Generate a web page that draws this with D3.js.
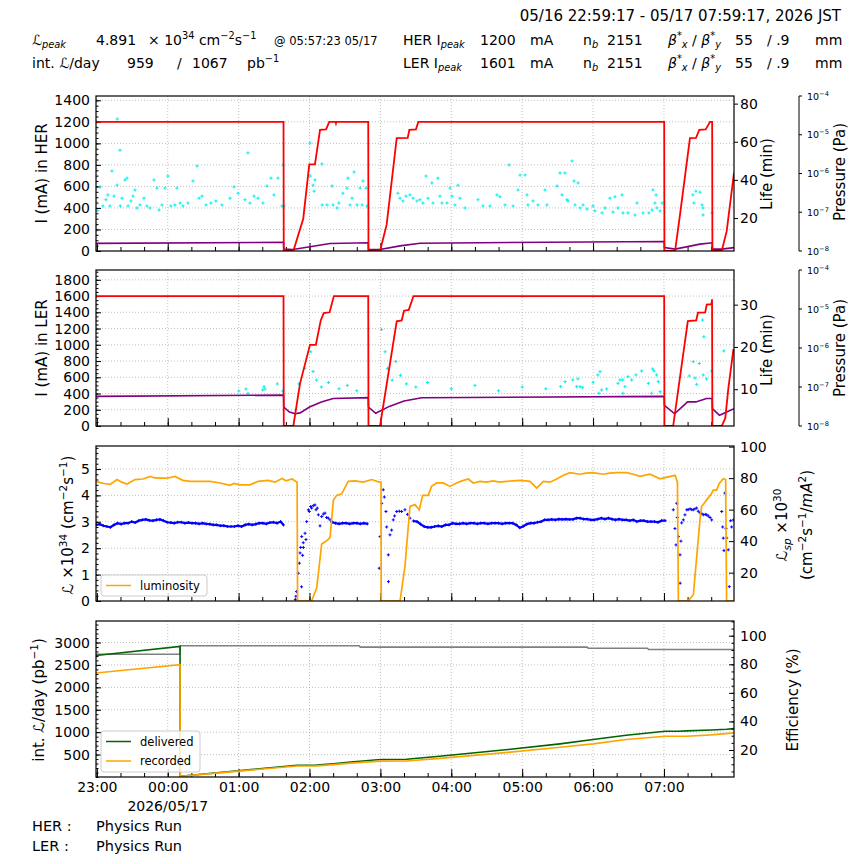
<!DOCTYPE html>
<html>
<head>
<meta charset="utf-8">
<script src="https://cdn.jsdelivr.net/npm/d3@7"></script>
<style>
  body { margin: 0; background: #fff; }
  svg { font-family: "DejaVu Sans", sans-serif; }
  text { white-space: pre; }
</style>
</head>
<body>
<script>
// ---- data (time = minutes after 23:00 on 05/16) ----
const herCurrent = [[-1,1200],[158,1200],[158.2,0],[166.3,0],[174.7,300],[179.8,805],[184.6,805],[188.9,1125],[194,1130],[196.7,1200],[202,1200],[202.4,1185],[202.8,1200],[229.7,1200],[229.9,0],[239.7,0],[245.3,245],[253.8,1048],[263.1,1050],[264.5,1125],[270.1,1130],[272.1,1200],[480.2,1200],[480.4,0],[489.4,0],[493.6,339],[502,1048],[507.1,1050],[509.9,1125],[515.3,1130],[519,1200],[520.8,1200],[521,0],[528.9,0],[533.1,184],[539.3,728]];
const herLife = [[-1,6.7],[158,7.2],[158.2,3.7],[166,3.5],[180.4,4.9],[197.4,6.6],[229.7,7.0],[229.9,3.5],[239.7,3.5],[256.6,5.4],[273.5,6.8],[480.2,7.7],[480.4,4.5],[489.4,3.7],[510.5,6.3],[520.8,7.0],[521,3.7],[528.9,3.7],[539.3,4.5]];
const herPressure = [[0.7,1.1e-7],[2.7,4.5e-7],[5.2,1.45e-7],[7.7,2.1e-7],[9.4,2.8e-7],[11.1,1.45e-7],[12.8,1.16e-6],[14.5,2.6e-7],[17.1,5.0e-7],[17.3,2.55e-5],[19.6,4.0e-6],[19.8,1.45e-7],[21.3,2.3e-7],[23.8,6.8e-7],[25.5,7.6e-7],[26.4,1.45e-7],[28.9,1.95e-7],[30.6,2.6e-7],[32.3,3.75e-7],[34,1.29e-7],[36.5,1.54e-7],[39.9,2.3e-7],[42.4,1.45e-7],[45,1.29e-7],[48.4,6.8e-7],[50.9,4.2e-7],[52.6,1.14e-7],[55.1,1.54e-7],[57.7,4.2e-7],[60.2,8.6e-7],[62.7,1.45e-7],[66.1,1.54e-7],[67.8,4.2e-7],[70.4,1.73e-7],[72.9,1.45e-7],[77.1,1.73e-7],[81.4,6.4e-7],[84.8,1.56e-6],[86.5,2.3e-7],[89,2.6e-7],[92.4,1.54e-7],[96.6,1.73e-7],[100.8,1.95e-7],[105.9,1.54e-7],[112.7,2.3e-7],[116.1,4.5e-7],[119.5,3.1e-7],[125.4,2.1e-7],[127.9,3.4e-6],[129.6,1.73e-7],[133,2.6e-7],[136.4,2.3e-7],[140.6,1.73e-7],[144,4.75e-7],[147.4,7.6e-7],[149.9,2.8e-7],[153.3,7.6e-7],[156.7,1.45e-7],[157.6,1.66e-6],[158.4,1.45e-7],
  [180.4,6.1e-6],[180.6,8.6e-7],[183,5.0e-7],[183.9,3.5e-7],[184.6,6.8e-7],[190.5,1.76e-6],[190.7,1.54e-7],[194.8,1.54e-7],[199.1,4.75e-7],[199.9,1.54e-7],[203.3,1.29e-7],[204.9,1.73e-7],[208.3,3.1e-7],[211.7,4.2e-7],[212.6,7.6e-7],[214.3,1.54e-7],[216,2.3e-7],[217.7,1.09e-6],[220.2,1.54e-7],[222.8,4.2e-7],[224.5,1.54e-7],[225.3,6.4e-7],[227.8,4.2e-7],[228.6,1.45e-7],
  [254.8,3.1e-7],[256.6,2.3e-7],[259.1,1.95e-7],[261.7,2.6e-7],[265,2.8e-7],[267.6,2.3e-7],[271,1.95e-7],[273.5,2.1e-7],[276,1.73e-7],[278.6,8.6e-7],[280.3,2.3e-7],[283.6,5.7e-7],[284.5,1.73e-7],[288.7,7.6e-7],[290.4,2.6e-7],[292.1,1.73e-7],[296.4,1.73e-7],[298.9,4.2e-7],[300.6,2.6e-7],[303.1,1.54e-7],[305.7,5.0e-7],[307.4,2.3e-7],[311.6,1.29e-7],[322.6,2.1e-7],[326.8,1.45e-7],[332.8,1.45e-7],[338.7,2.8e-7],[341.2,2.5e-7],[345.5,1.54e-7],[348.9,1.66e-6],[352.3,1.45e-7],[356.5,3.75e-7],[358.2,9.1e-7],[362.4,9.1e-7],[364.1,2.8e-7],[364.9,1.54e-7],[369.2,1.95e-7],[373.4,1.54e-7],[379.3,3.75e-7],[381,1.54e-7],[389.5,4.75e-7],[392,1.03e-6],[393.7,2.8e-7],[396.2,1.03e-6],[397.9,2.1e-7],[398.8,1.95e-7],[402.2,2.1e-6],[403.9,6.4e-7],[404.7,1.54e-7],[407.3,5.7e-7],[409,1.29e-7],[411.5,1.54e-7],[414.9,1.21e-7],[420,1.45e-7],[421.6,1.08e-7],[427.6,9.6e-8],[430.1,1.29e-7],[434.3,2.3e-7],[436.9,1.01e-7],[438.6,2.5e-7],[441.1,1.29e-7],[444.5,2.8e-7],[445.3,9.6e-8],[449.6,9.6e-8],[455.5,8.5e-8],[457.2,1.73e-7],[462.3,9.6e-8],[467.3,9.6e-8],[469.9,1.14e-7],[470.7,3.75e-7],[472.4,1.73e-7],[473.3,2.8e-7],[474.1,1.29e-7],[476.7,1.08e-7],[478.4,1.73e-7],
  [504.5,2.8e-7],[505.4,1.73e-7],[507.1,3.5e-7],[510.5,3.3e-7],[512.2,1.54e-7],[513,1.29e-7],[513.1,8.5e-8],[520.7,9.6e-8]];

const lerCurrent = [[-1,1600],[158,1600],[158.2,0],[166.3,0],[172,525],[180.4,1000],[185.4,1000],[189.5,1300],[192,1390],[197,1400],[200.6,1600],[229.7,1600],[229.9,0],[239.7,0],[253.8,1290],[258,1300],[260,1420],[264,1430],[268,1600],[480.2,1600],[480.4,0],[487.8,0],[500.2,1291],[507.3,1300],[508.8,1396],[514.9,1400],[516.2,1494],[520.2,1500],[520.7,1560],[521,0],[528.9,0],[531.9,96],[534.5,464],[538.8,947]];
const lerLife = [[-1,8.3],[158,8.6],[158.2,5.8],[163,4.6],[168,4.2],[172,4.4],[180,5.8],[190,7.0],[200,7.8],[229.7,8.0],[229.9,5.8],[236,4.3],[248,6.0],[260,7.2],[275,8.0],[480.2,8.3],[480.4,6.2],[489,4.2],[500,7.0],[507,7.0],[516,7.8],[520.8,7.8],[521,5.4],[527,3.85],[539.3,5.4]];
const lerPressure = [[120.2,7.9e-8],[126.2,8.9e-8],[127.9,6.9e-8],[140.4,8.4e-8],[141.5,1.02e-7],[142.3,8.9e-8],[152.7,1.2e-7],[157.3,7.9e-8],
  [171,1.2e-7],[176,3e-7],[181,8e-7],[183,2.5e-7],[186,1.5e-7],[190,1e-7],[196,1.3e-7],[205,9e-8],[212,1.1e-7],[220,8e-8],
  [241,3e-6],[244,8e-7],[246,3e-7],[250,1.5e-7],[253,4.5e-7],[257,2e-7],[262,1.2e-7],[270,1e-7],[280,1.3e-7],[300,9e-8],[320,1.1e-7],[340,8e-8],[360,1e-7],[380,9e-8],
  [392.5,1.02e-7],[396.3,1.37e-7],[402.8,1.52e-7],[406.1,1.02e-7],[407.2,1.61e-7],[409,1.02e-7],[411.2,9.6e-8],[420,1.32e-7],[424.1,2.04e-7],[425.9,2.47e-7],[425,6.9e-8],[427.3,8.4e-8],[431.5,8.9e-8],[441.1,1.24e-7],[442.8,1.52e-7],[445.1,1.52e-7],[445.3,6.9e-8],[447,1.02e-7],[449.6,1.84e-7],[452.7,1.52e-7],[456.3,2.04e-7],[461.1,2.58e-7],[466.8,1.24e-7],[469.6,6.9e-8],[470.5,2.9e-7],[471.6,2.58e-7],[473.8,2.04e-7],[475.2,1.37e-7],[476.7,7.6e-8],
  [501.4,1.92e-7],[504.8,4.46e-7],[506.3,1.7e-7],[507.7,1.17e-7],[509.9,4.0e-7],[512.7,5.2e-6],[513.8,1.94e-6],[513.2,2.04e-7],[516.1,1.6e-7],[520.3,2.58e-7],[530.7,8.4e-7]];

const luminosity = [[-0.7,4.54],[2.7,4.48],[6,4.45],[11.1,4.42],[14,4.5],[17.1,4.6],[21,4.5],[25.5,4.43],[29,4.52],[32.3,4.6],[39.1,4.62],[45,4.72],[49,4.66],[53.4,4.65],[59.4,4.65],[66.1,4.72],[72.9,4.57],[78.8,4.53],[87.3,4.53],[95.8,4.53],[104.2,4.47],[112.7,4.38],[116,4.45],[121.2,4.4],[129.6,4.4],[136.4,4.53],[144.9,4.57],[150.8,4.5],[156.7,4.64],[160.1,4.55],[165.2,4.62],[169.5,4.5],[169.9,0],[181.8,0],[186.1,0.5],[190.3,2.16],[194.5,2.28],[197.4,2.4],[200.2,3.82],[203,4.0],[207.2,4.06],[212.8,4.53],[218.5,4.55],[225.5,4.5],[232.6,4.6],[239,4.5],[240.5,4.5],[240.7,0],[256.6,0],[260.8,1.32],[265,3.58],[269.2,3.65],[272.9,3.45],[275.7,4.0],[280.5,4.0],[283.3,4.34],[287.6,4.47],[293.2,4.47],[298.9,4.34],[304.5,4.47],[309,4.55],[314.4,4.62],[318.6,4.47],[324.3,4.53],[330,4.5],[335.3,4.55],[341,4.5],[346.9,4.53],[352,4.55],[358.2,4.57],[366.6,4.53],[372.3,4.28],[377.9,4.53],[383.5,4.5],[389.2,4.62],[394.8,4.76],[400.5,4.86],[408.9,4.8],[414,4.84],[419.9,4.86],[428.4,4.8],[434,4.84],[440.2,4.86],[448.7,4.86],[454,4.8],[459.7,4.72],[468.2,4.8],[476.7,4.63],[480.9,4.67],[489.4,4.76],[491.4,4.5],[492.2,0],[500.6,0],[504.9,0.25],[510.5,3.08],[511.9,3.58],[516.2,3.83],[520.4,4.08],[521.7,4.2],[524.6,4.2],[526.8,4.45],[530.2,4.63],[532.2,4.6],[533,0],[539.3,0]];

// specific luminosity: dense stable stretches and scattered points during injection
const specLumiRuns = [
  [[-0.5,50.3],[2.5,50.8],[5.5,49.8],[8.5,49.3],[11.5,48.8],[14.5,50.3],[17.5,51.4],[20.5,50.8],[23.5,51.4],[26.5,51.4],[29.5,52.4],[32.5,51.8],[35.5,53],[38.5,53.5],[41.5,53.8],[44.5,53.2],[47.5,53],[50.5,53.5],[53.5,53.8],[56.5,53],[59.5,52],[62.5,51.8],[65.5,51.4],[68.5,52],[71.5,52],[74.5,51.4],[77.5,51.8],[80.5,51.4],[83.5,51.4],[86.5,51],[89.5,51.4],[92.5,51],[95.5,50.8],[98.5,50.3],[101.5,50.3],[104.5,49.8],[107.5,49.8],[110.5,49.3],[113.5,49.3],[116.5,49.3],[119.5,49.8],[122.5,49.3],[125.5,50.3],[128.5,50.8],[131.5,50.3],[134.5,50.8],[137.5,51.4],[140.5,51.4],[143.5,51],[146.5,51.8],[149.5,52],[152.5,51.4],[155.5,52.4],[158,50.3]],
  [[199,52],[202,51.4],[205,51],[208,51.4],[211,51.4],[214,51],[217,51.4],[220,51.4],[223,51],[226,51.4],[229,51]],
  [[268,52.8],[271,52.4],[274,50.8],[277,49.3],[280,48.8],[283,48.8],[286,49.3],[289,49.7],[292,49.3],[295,50.3],[298,50.3],[301,51.4],[304,51],[307,51],[310,51.4],[313,51],[316,51.4],[319,51.4],[322,51],[325,51.4],[328,51.4],[331,51],[334,51.4],[337,51.4],[340,51.4],[343,51],[346,51.4],[349,51.4],[352,51.4],[355,50.3],[358,48.5],[361,49.5],[364,50.8],[367,51.4],[370,51.4],[373,52],[376,52.4],[379,53.5],[382,53.5],[385,53.8],[388,53.5],[391,54],[394,53.8],[397,54],[400,53.8],[403,53.8],[406,54.6],[409,54.6],[412,54],[415,54],[418,53.5],[421,53.5],[424,54],[427,54.6],[430,54],[433,54.6],[436,54],[439,53.5],[442,54],[445,53.5],[448,53.5],[451,53],[454,53.5],[457,52.4],[460,53],[463,53],[466,52.4],[469,52.4],[472,52.4],[475,52],[478,53],[481,53]]
];
const specLumiScatter = [[168,3],[168.5,5],[169,8],[170.5,19.6],[171.4,26],[172,32.5],[172.5,36],[173.4,42.9],[173.3,11],[174.2,31],[174.7,39],[174.8,36],[176.2,45],[177,41],[177.6,52.4],[179,59.9],[179.8,58.8],[181,62],[181.8,61],[183.2,62.5],[184.6,63],[185.5,59.9],[186.6,61],[187.5,56.7],[188.9,49.7],[190.3,55.6],[191.7,57.2],[193.1,57.8],[194.5,55],[195.9,54.6],[197.4,53.5],[198.8,52.4],
  [239,22.8],[239.7,42.9],[241.1,64],[242.4,72.6],[243.3,68],[244.7,58.8],[245.3,49],[246.7,31.3],[246.8,14.3],[248.1,44],[249.5,47],[250.9,53.5],[252,56],[253.8,58.8],[256,59],[258,58.8],[260.8,59.9],[263,57],[265,54.6],
  [487.9,59.9],[489.3,48],[490.2,37.6],[490.8,64],[491.3,55],[492.2,42.9],[493.6,31.3],[493.7,13.3],[494.4,40],[495,51.6],[496.4,53.5],[497.8,56.7],[499.3,59.9],[500.5,60],[502.1,60.5],[503.5,60],[504.8,59.9],[506.2,60.5],[507.7,61],[509,59],[510.5,58],[512,57.5],[513.3,56.7],[515,57],[516.2,56.7],[517.5,56],[519,55],[520.4,53.5],
  [528.9,58.8],[529.7,49],[530.2,41.9],[530.8,34],[531.6,70.5],[532.5,48],[533.1,42],[534.4,34.5],[535.3,11.1],[536.5,53],[537.3,49],[538.8,53.5]];

const delivered = [[-1,2711],[70.4,2911],[70.6,18],[169.5,262],[186,265],[200,295],[215,333],[240,390],[262,395],[288,456],[348,612],[392,739],[420,835],[448,930],[481,1019],[492,1022],[499,1030],[520,1050],[533,1065],[539.3,1079]];
const recorded = [[-1,2319],[70.4,2504],[70.6,15],[169.5,245],[186,248],[200,275],[215,310],[240,355],[262,357],[288,410],[348,550],[392,663],[420,739],[448,835],[481,908],[499,910],[520,940],[539.3,984]];
const efficiency = [[-1,87],[70.4,87],[70.6,93],[222,93],[223,92],[415,92],[416,91.2],[466,91.2],[467,90.3],[539.3,90.3]];

const herTicks = [0,200,400,600,800,1000,1200,1400];
const lerTicks = [0,200,400,600,800,1000,1200,1400,1600,1800];
const lumTicks = [0,1,2,3,4,5];
const intTicks = [500,1000,1500,2000,2500,3000];
const herLifeTicks = [20,40,60,80];
const lerLifeTicks = [10,20,30];
const specTicks = [20,40,60,80,100];
const effTicks = [20,40,60,80,100];
const pressureTicks = [1e-8,1e-7,1e-6,1e-5,1e-4];

// ---- layout ----
const width = 864, height = 864;
const L = 96, R = 734;
const P = [
  {top: 96, bottom: 251},
  {top: 270, bottom: 426},
  {top: 446, bottom: 601},
  {top: 621, bottom: 777}
];
const t0 = new Date(2026, 4, 16, 23, 0, 0);
const tm = m => new Date(t0.getTime() + m * 60000);
const x = d3.scaleTime([tm(-43 / 60), tm(539 + 17 / 60)], [L, R]);
const fmt = d3.format('d');

const y1 = d3.scaleLinear([0, 1440], [P[0].bottom, P[0].top]);
const life1 = d3.scaleLinear([2.7, 84], [P[0].bottom, P[0].top]);
const pres1 = d3.scaleLog([1e-8, 1e-4], [P[0].bottom, P[0].top]);
const y2 = d3.scaleLinear([0, 1921], [P[1].bottom, P[1].top]);
const life2 = d3.scaleLinear([1.3, 38.2], [P[1].bottom, P[1].top]);
const pres2 = d3.scaleLog([1e-8, 1e-4], [P[1].bottom, P[1].top]);
const y3 = d3.scaleLinear([0, 5.87], [P[2].bottom, P[2].top]);
const spec3 = d3.scaleLinear([2, 100.4], [P[2].bottom, P[2].top]);
const y4 = d3.scaleLinear([0, 3480], [P[3].bottom, P[3].top]);
const eff4 = d3.scaleLinear([1.1, 110.3], [P[3].bottom, P[3].top]);

const svg = d3.select('body').append('svg')
  .attr('width', width)
  .attr('height', height);

// text with super/subscripts: parts are strings or [string, 'sup'|'sub'|'it'...]
function rich(g, px, py, parts, size) {
  const t = g.append('text').attr('x', px).attr('y', py).attr('font-size', size).attr('fill', '#000');
  let shift = 0;
  parts.forEach(p => {
    const [s, kind] = typeof p === 'string' ? [p, ''] : p;
    const sp = t.append('tspan').text(s);
    let target = 0, fs = size;
    if (kind.includes('sup')) { target = -size * 0.42; fs = size * 0.7; }
    if (kind.includes('sub')) { target = size * 0.22; fs = size * 0.7; }
    sp.attr('dy', target - shift).attr('font-size', fs);
    if (kind.includes('it')) sp.attr('font-style', 'italic');
    shift = target;
  });
  return t;
}

function vlabel(cx, cy, parts, size) {
  const g = svg.append('g').attr('transform', `translate(${cx},${cy}) rotate(-90)`);
  rich(g, 0, size * 0.35, parts, size).attr('text-anchor', 'middle');
}

function styleAxis(sel, size) {
  sel.attr('font-family', null).attr('font-size', null);
  sel.select('.domain').remove();
  sel.selectAll('text').attr('font-size', size).attr('fill', '#000');
  sel.selectAll('line').attr('stroke', '#000');
}

// clip paths
const defs = svg.append('defs');
P.forEach((p, i) => {
  defs.append('clipPath').attr('id', `clip${i}`)
    .append('rect').attr('x', L).attr('y', p.top).attr('width', R - L).attr('height', p.bottom - p.top);
});

function panelFrame(i, y, majors, minorStep) {
  const p = P[i];
  const g = svg.append('g');
  g.append('g').selectAll('line').data(x.ticks(d3.timeHour.every(1))).join('line')
    .attr('x1', d => x(d)).attr('x2', d => x(d)).attr('y1', p.top).attr('y2', p.bottom)
    .attr('stroke', '#b0b0b0').attr('stroke-width', 0.8).attr('stroke-dasharray', '1,2');
  g.append('g').selectAll('line').data(majors.filter(v => v > y.domain()[0])).join('line')
    .attr('x1', L).attr('x2', R).attr('y1', d => y(d)).attr('y2', d => y(d))
    .attr('stroke', '#b0b0b0').attr('stroke-width', 0.8).attr('stroke-dasharray', '1,2');

  // x axes (inward ticks)
  g.append('g').attr('transform', `translate(0,${p.bottom})`)
    .call(d3.axisBottom(x).ticks(d3.timeMinute.every(20)).tickSizeInner(-4).tickSizeOuter(0).tickFormat(() => ''))
    .call(s => styleAxis(s, 14));
  g.append('g').attr('transform', `translate(0,${p.bottom})`)
    .call(d3.axisBottom(x).ticks(d3.timeHour.every(1)).tickSizeInner(-8).tickSizeOuter(0).tickPadding(5)
      .tickFormat(i === 3 ? d3.timeFormat('%H:%M') : () => ''))
    .call(s => styleAxis(s, 14));

  // left axis
  const [lo, hi] = y.domain();
  const minors = d3.range(0, hi, minorStep).filter(v => v >= lo);
  g.append('g').attr('transform', `translate(${L},0)`)
    .call(d3.axisLeft(y).tickValues(minors).tickSizeInner(-2.5).tickSizeOuter(0).tickFormat(() => ''))
    .call(s => styleAxis(s, 14));
  g.append('g').attr('transform', `translate(${L},0)`)
    .call(d3.axisLeft(y).tickValues(majors).tickSizeInner(-5).tickSizeOuter(0).tickPadding(6).tickFormat(fmt))
    .call(s => styleAxis(s, 14));
  return g;
}

function frameRect(i) {
  const p = P[i];
  svg.append('rect').attr('x', L).attr('y', p.top).attr('width', R - L).attr('height', p.bottom - p.top)
    .attr('fill', 'none').attr('stroke', '#000').attr('stroke-width', 1.2);
}

function rightAxis(ys, ticks, inward, minorStep) {
  const g = svg.append('g').attr('transform', `translate(${R},0)`);
  if (minorStep) {
    const [lo, hi] = ys.domain();
    g.append('g').call(d3.axisRight(ys).tickValues(d3.range(0, hi, minorStep).filter(v => v >= lo))
      .tickSizeInner(inward ? -2.5 : 2.5).tickSizeOuter(0).tickFormat(() => ''))
      .call(s => styleAxis(s, 14));
  }
  g.append('g').call(d3.axisRight(ys).tickValues(ticks).tickSizeInner(inward ? -5 : 4).tickSizeOuter(0)
    .tickPadding(inward ? 6 : 2).tickFormat(fmt))
    .call(s => styleAxis(s, 14));
}

function pressureAxis(ys) {
  const p0 = 799;
  const g = svg.append('g').attr('transform', `translate(${p0},0)`);
  g.append('line').attr('x1', 0).attr('x2', 0).attr('y1', ys.range()[1]).attr('y2', ys.range()[0])
    .attr('stroke', '#000').attr('stroke-width', 1);
  const tk = g.selectAll('g').data(pressureTicks).join('g').attr('transform', d => `translate(0,${ys(d)})`);
  tk.append('line').attr('x1', 0).attr('x2', 3).attr('stroke', '#000');
  tk.each(function(d) {
    const e = Math.round(Math.log10(d));
    rich(d3.select(this), 8, 3.5, ['10', ['\u2212' + (-e), 'sup']], 9.5);
  });
}

function line(ys) {
  return d3.line().x(d => x(tm(d[0]))).y(d => ys(d[1]));
}

function crosses(g, data, ys, color, r) {
  g.append('g').selectAll('path').data(data).join('path')
    .attr('d', d => `M${x(tm(d[0])) - r},${ys(d[1])}h${2 * r}M${x(tm(d[0]))},${ys(d[1]) - r}v${2 * r}`)
    .attr('stroke', color).attr('stroke-width', 1);
}

function legend(bx, by, bw, bh, items) {
  const g = svg.append('g');
  g.append('rect').attr('x', bx).attr('y', by).attr('width', bw).attr('height', bh).attr('rx', 3)
    .attr('fill', '#fff').attr('fill-opacity', 0.8).attr('stroke', '#cccccc');
  items.forEach((it, k) => {
    const cy = by + 10.5 + k * 19.5;
    g.append('line').attr('x1', bx + 5).attr('x2', bx + 30).attr('y1', cy).attr('y2', cy)
      .attr('stroke', it.color).attr('stroke-width', 1.5);
    g.append('text').attr('x', bx + 39).attr('y', cy + 4).attr('font-size', 11.5).text(it.label);
  });
}

// ---- panel 1: HER ----
panelFrame(0, y1, herTicks, 50);
{
  const g = svg.append('g').attr('clip-path', 'url(#clip0)');
  crosses(g, herPressure, pres1, '#00eeee', 1.6);
  g.append('path').datum(herLife).attr('d', line(life1)).attr('fill', 'none').attr('stroke', 'purple').attr('stroke-width', 1.6);
  g.append('path').datum(herCurrent).attr('d', line(y1)).attr('fill', 'none').attr('stroke', '#ff0000').attr('stroke-width', 1.8);
}
frameRect(0);
rightAxis(life1, herLifeTicks, false);
pressureAxis(pres1);

// ---- panel 2: LER ----
panelFrame(1, y2, lerTicks, 50);
{
  const g = svg.append('g').attr('clip-path', 'url(#clip1)');
  crosses(g, lerPressure, pres2, '#00eeee', 1.6);
  g.append('path').datum(lerLife).attr('d', line(life2)).attr('fill', 'none').attr('stroke', 'purple').attr('stroke-width', 1.6);
  g.append('path').datum(lerCurrent).attr('d', line(y2)).attr('fill', 'none').attr('stroke', '#ff0000').attr('stroke-width', 1.8);
}
frameRect(1);
rightAxis(life2, lerLifeTicks, false);
pressureAxis(pres2);

// ---- panel 3: luminosity ----
panelFrame(2, y3, lumTicks, 0.2);
{
  const g = svg.append('g').attr('clip-path', 'url(#clip2)');
  specLumiRuns.forEach(run => {
    g.append('path').datum(run).attr('d', line(spec3)).attr('fill', 'none').attr('stroke', '#0000ff').attr('stroke-width', 2.2);
    crosses(g, run, spec3, '#0000ff', 1.5);
  });
  crosses(g, specLumiScatter, spec3, '#0000ff', 1.5);
  g.append('path').datum(luminosity).attr('d', line(y3)).attr('fill', 'none').attr('stroke', 'orange').attr('stroke-width', 1.7);
}
frameRect(2);
rightAxis(spec3, specTicks, true);
legend(101, 575, 106, 21, [{label: 'luminosity', color: 'orange'}]);

// ---- panel 4: integrated luminosity ----
panelFrame(3, y4, intTicks, 100);
{
  const g = svg.append('g').attr('clip-path', 'url(#clip3)');
  g.append('path').datum(efficiency).attr('d', line(eff4)).attr('fill', 'none').attr('stroke', 'grey').attr('stroke-width', 1.6);
  g.append('path').datum(delivered).attr('d', line(y4)).attr('fill', 'none').attr('stroke', 'darkgreen').attr('stroke-width', 1.6);
  g.append('path').datum(recorded).attr('d', line(y4)).attr('fill', 'none').attr('stroke', 'orange').attr('stroke-width', 1.6);
}
frameRect(3);
rightAxis(eff4, effTicks, true, 5);
legend(101, 731, 99, 41, [{label: 'delivered', color: 'darkgreen'}, {label: 'recorded', color: 'orange'}]);
svg.append('text').attr('x', x(tm(60))).attr('y', 811).attr('text-anchor', 'middle').attr('font-size', 14).text('2026/05/17');

// ---- axis labels ----
vlabel(42, 173.5, ['I (mA) in HER'], 15);
vlabel(42, 348, ['I (mA) in LER'], 15);
vlabel(68, 525, [['\u2112', 'it'], ' \u00d710', ['34', 'sup'], ' (cm', ['\u22122', 'sup'], 's', ['\u22121', 'sup'], ')'], 15);
vlabel(39, 700, ['int. ', ['\u2112', 'it'], '/day (pb', ['\u22121', 'sup'], ')'], 15);
vlabel(767, 174, ['Life (min)'], 15);
vlabel(767, 350, ['Life (min)'], 15);
vlabel(840, 172, ['Pressure (Pa)'], 15);
vlabel(840, 348, ['Pressure (Pa)'], 15);
vlabel(782, 525, [['\u2112', 'it'], ['sp', 'sub it'], ' \u00d710', ['30', 'sup']], 15);
vlabel(807, 525, ['(cm', ['\u22122', 'sup'], 's', ['\u22121', 'sup'], '/', ['mA', 'it'], ['2', 'sup'], ')'], 15);
vlabel(793, 700, ['Efficiency (%)'], 15);

// ---- header ----
const hd = svg.append('g');
hd.append('text').attr('x', 841).attr('y', 21).attr('text-anchor', 'end').attr('font-size', 15)
  .text('05/16 22:59:17 - 05/17 07:59:17, 2026 JST');
const rows = [
  {y: 45, ring: 'HER', cur: '1200'},
  {y: 68, ring: 'LER', cur: '1601'}
];
rich(hd, 32, 45, [['\u2112', 'it'], ['peak', 'sub it']], 14);
rich(hd, 96, 45, ['4.891'], 14);
rich(hd, 148, 45, ['\u00d7 10', ['34', 'sup'], ' cm', ['\u22122', 'sup'], 's', ['\u22121', 'sup']], 14);
rich(hd, 274, 45, ['@ 05:57:23 05/17'], 11.5);
rich(hd, 32, 68, ['int. ', ['\u2112', 'it'], '/day'], 14);
rich(hd, 127, 68, ['959'], 14);
rich(hd, 177, 68, ['/'], 14);
rich(hd, 192, 68, ['1067'], 14);
rich(hd, 247, 68, ['pb', ['\u22121', 'sup']], 14);
rows.forEach(r => {
  rich(hd, 403, r.y, [r.ring + ' I', ['peak', 'sub it']], 14);
  rich(hd, 480, r.y, [r.cur], 14);
  rich(hd, 530, r.y, ['mA'], 14);
  rich(hd, 583, r.y, ['n', ['b', 'sub it']], 14);
  rich(hd, 607, r.y, ['2151'], 14);
  rich(hd, 668, r.y, [['\u03b2', 'it'], ['*', 'sup'], ['x', 'sub it'], ' / ', ['\u03b2', 'it'], ['*', 'sup'], ['y', 'sub it']], 14);
  rich(hd, 735, r.y, ['55'], 14);
  rich(hd, 767, r.y, ['/ .9'], 14);
  rich(hd, 815, r.y, ['mm'], 14);
});

// ---- footer ----
rich(svg, 32, 831, ['HER :'], 14.5);
rich(svg, 96, 831, ['Physics Run'], 14.5);
rich(svg, 32, 851, ['LER :'], 14.5);
rich(svg, 96, 851, ['Physics Run'], 14.5);
</script>
</body>
</html>
